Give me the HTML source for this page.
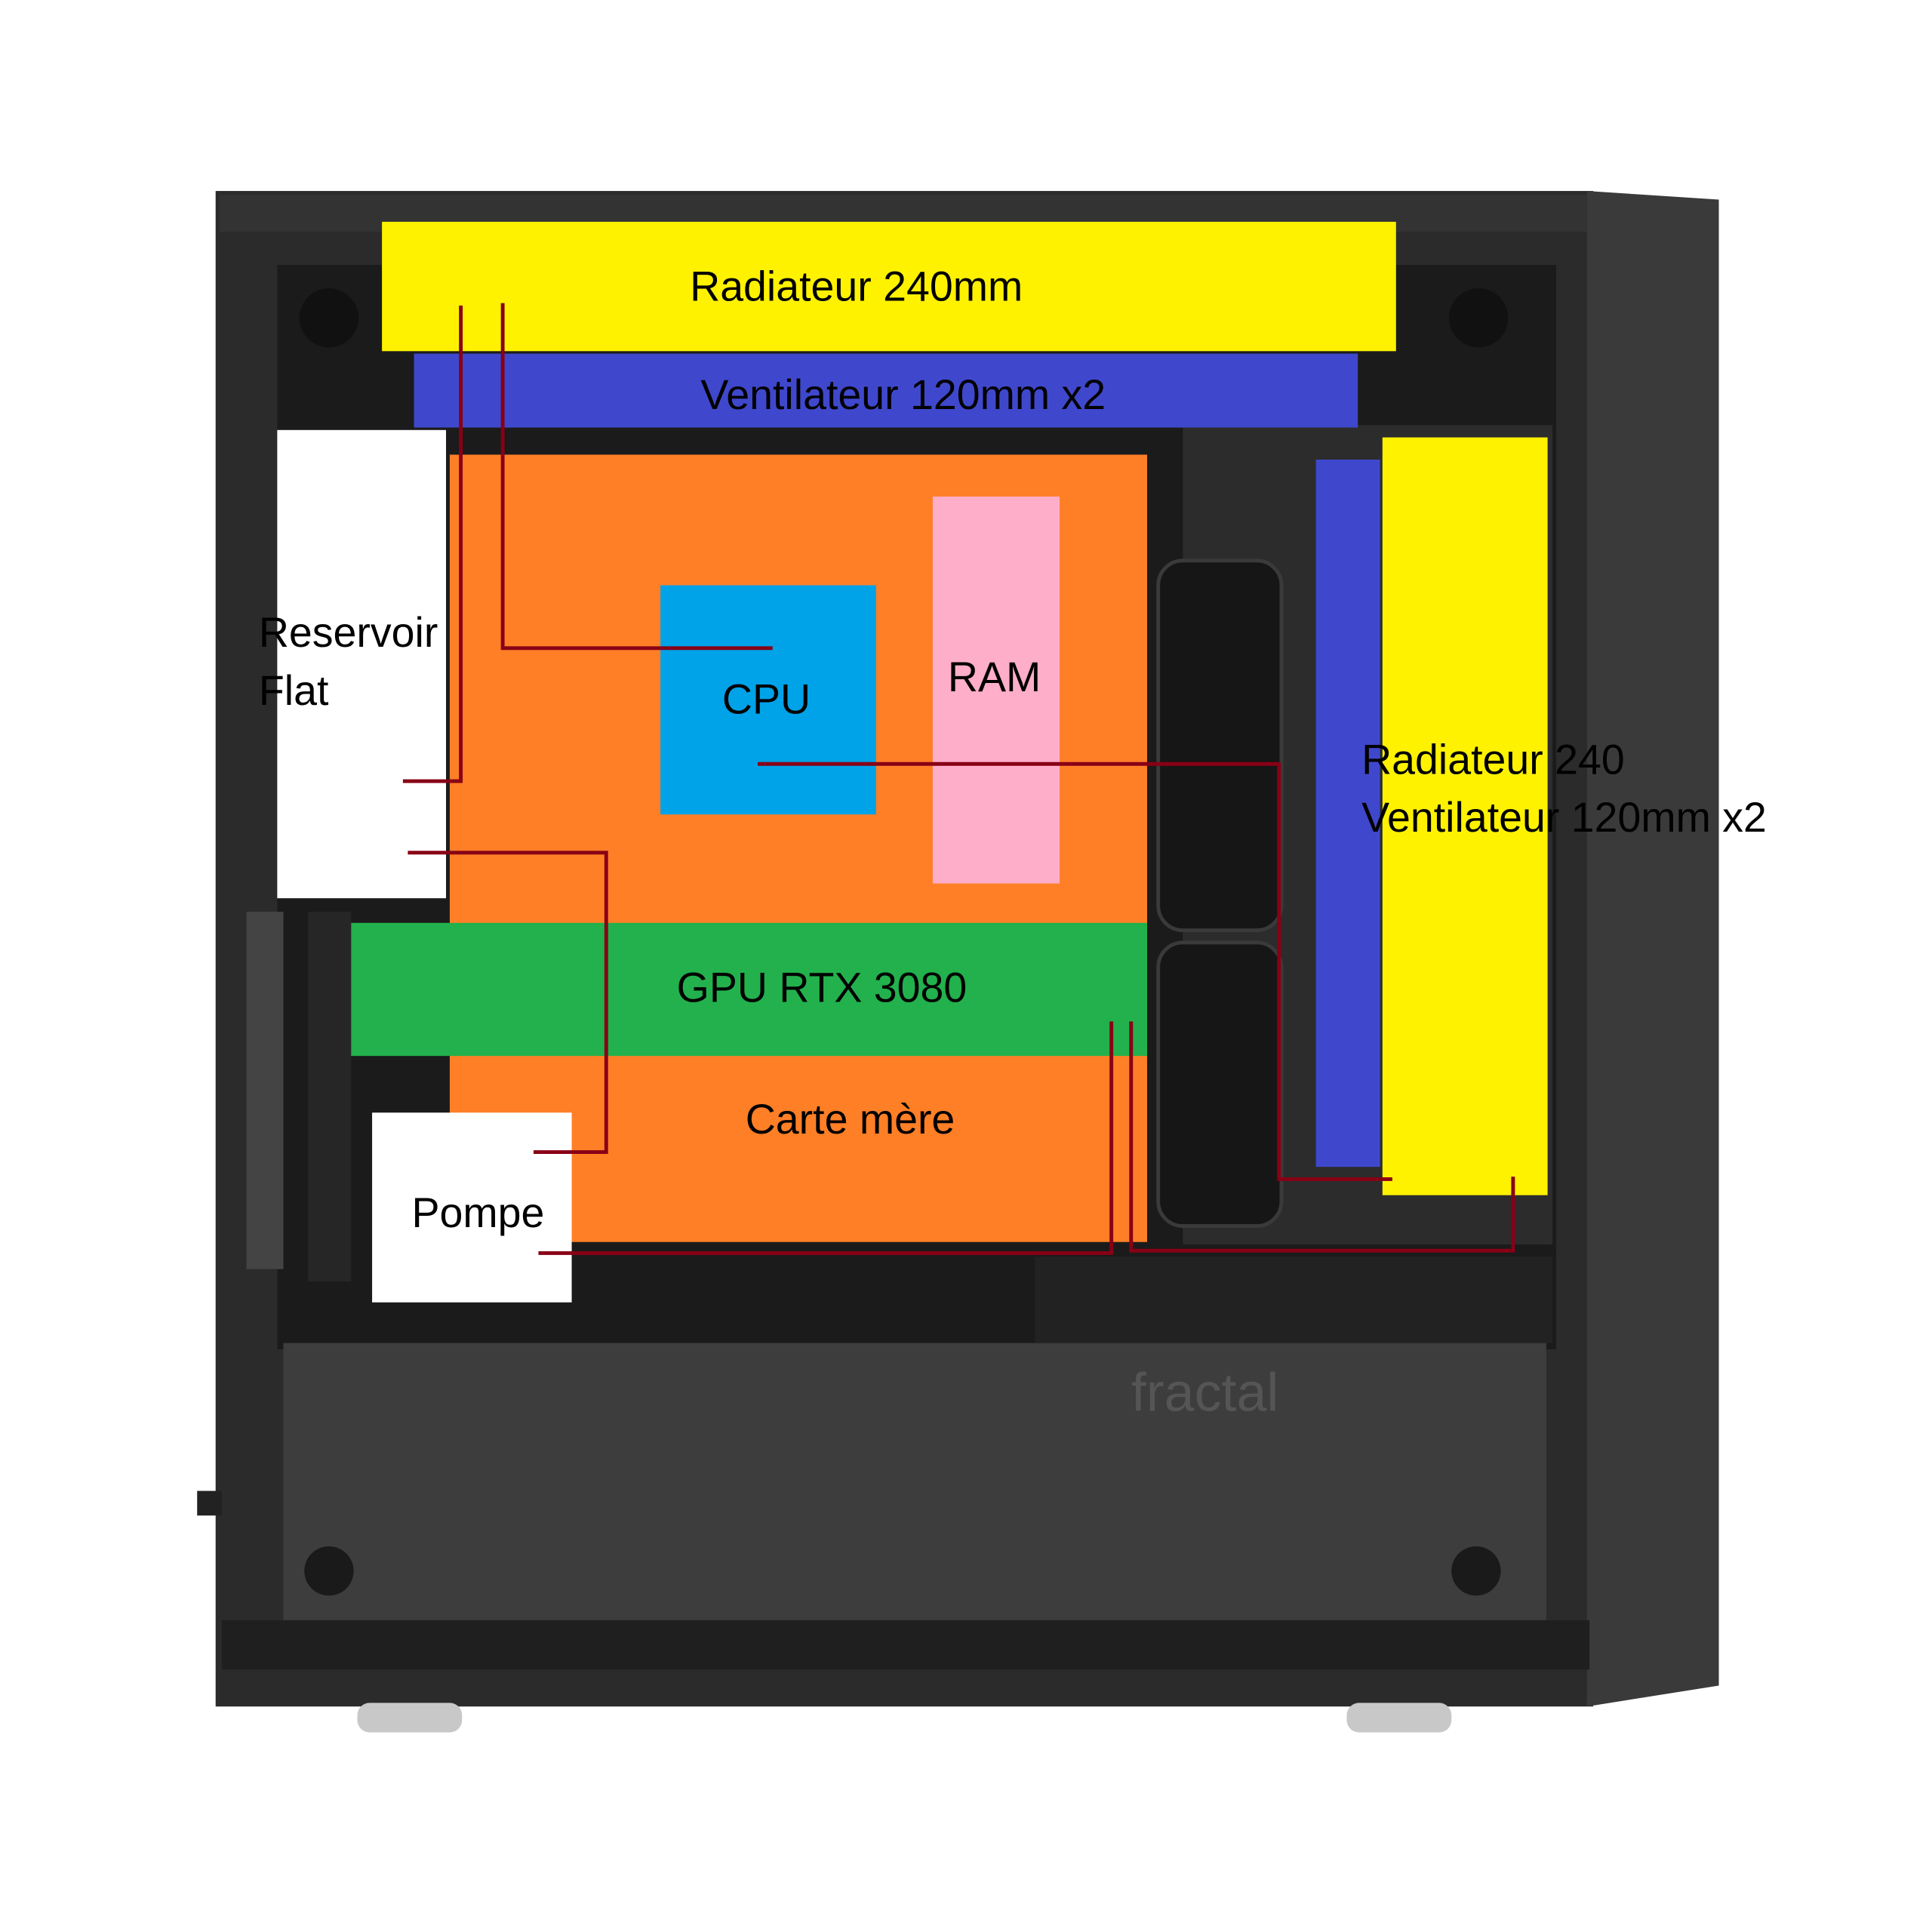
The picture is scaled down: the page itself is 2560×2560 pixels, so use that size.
<!DOCTYPE html>
<html><head><meta charset="utf-8"><style>
html,body{margin:0;padding:0;background:#fff;}
svg{display:block;}
text{font-family:"Liberation Sans",sans-serif;font-size:34px;fill:#000;}
</style></head><body>
<svg width="2560" height="2560" viewBox="0 0 1568 1568" xmlns="http://www.w3.org/2000/svg">
<rect width="1568" height="1568" fill="#fff"/>
<rect x="175" y="155" width="1118" height="1230" fill="#2b2b2b"/>
<polygon points="1288,155 1395,162 1395,1368 1288,1385" fill="#3a3a3a"/>
<rect x="178" y="158" width="1110" height="30" fill="#333"/>
<rect x="225" y="215" width="1038" height="880" fill="#1b1b1b"/>
<rect x="960" y="345" width="300" height="665" fill="#2c2c2c"/>
<rect x="940" y="455" width="100" height="300" rx="20" fill="#161616" stroke="#3a3a3a" stroke-width="3"/>
<rect x="940" y="765" width="100" height="230" rx="20" fill="#161616" stroke="#3a3a3a" stroke-width="3"/>
<rect x="200" y="740" width="30" height="290" fill="#444"/>
<rect x="250" y="740" width="35" height="300" fill="#262626"/>
<rect x="230" y="1090" width="1025" height="225" fill="#3d3d3d"/>
<rect x="840" y="1020" width="420" height="70" fill="#222"/>
<text x="918" y="1145" style="font-size:44px;fill:#555">fractal</text>
<rect x="180" y="1315" width="1110" height="40" fill="#1f1f1f"/>
<circle cx="267" cy="1275" r="20" fill="#1a1a1a"/>
<circle cx="1198" cy="1275" r="20" fill="#1a1a1a"/>
<circle cx="267" cy="258" r="24" fill="#111"/>
<circle cx="1200" cy="258" r="24" fill="#111"/>
<rect x="160" y="1210" width="20" height="20" fill="#222"/>
<rect x="290" y="1382" width="85" height="24" rx="10" fill="#c8c8c8"/>
<rect x="1093" y="1382" width="85" height="24" rx="10" fill="#c8c8c8"/>
<rect x="310" y="180" width="823" height="105" fill="#fff200"/>
<text x="695" y="244" text-anchor="middle">Radiateur 240mm</text>
<rect x="336" y="287" width="766" height="60" fill="#3f48cc"/>
<text x="733" y="332" text-anchor="middle">Ventilateur 120mm x2</text>
<rect x="365" y="369" width="566" height="639" fill="#ff7f27"/>
<rect x="225" y="349" width="137" height="380" fill="#fff"/>
<text x="210" y="525">Reservoir</text>
<text x="210" y="572">Flat</text>
<rect x="536" y="475" width="175" height="186" fill="#00a2e8"/>
<text x="622" y="579" text-anchor="middle">CPU</text>
<rect x="757" y="403" width="103" height="314" fill="#ffaec9"/>
<text x="807" y="561" text-anchor="middle">RAM</text>
<rect x="285" y="749" width="646" height="108" fill="#22b14c"/>
<text x="667" y="813" text-anchor="middle">GPU RTX 3080</text>
<text x="690" y="920" text-anchor="middle">Carte mère</text>
<rect x="302" y="903" width="162" height="154" fill="#fff"/>
<text x="388" y="996" text-anchor="middle">Pompe</text>
<rect x="1068" y="373" width="52" height="574" fill="#3f48cc"/>
<rect x="1122" y="355" width="134" height="615" fill="#fff200"/>
<text x="1105" y="628">Radiateur 240</text>
<text x="1105" y="675">Ventilateur 120mm x2</text>
<g fill="none" stroke="#880015" stroke-width="3">
<polyline points="374,248 374,634 327,634"/>
<polyline points="408,246 408,526 627,526"/>
<polyline points="615,620 1038,620 1038,957 1130,957"/>
<polyline points="331,692 492,692 492,935 433,935"/>
<polyline points="437,1017 902,1017 902,829"/>
<polyline points="918,829 918,1015 1228,1015 1228,955"/>
</g>
</svg>
</body></html>
